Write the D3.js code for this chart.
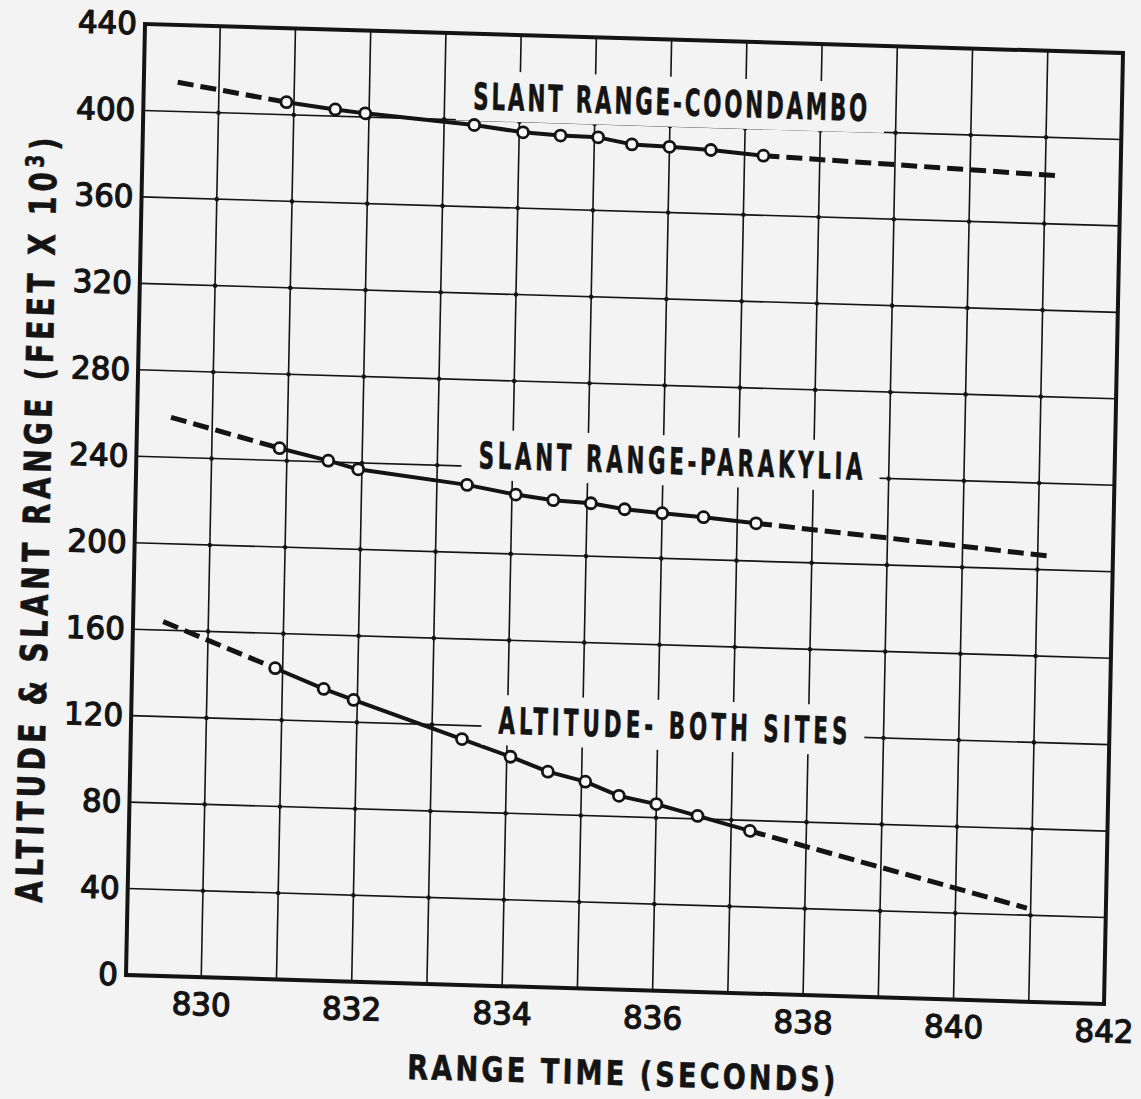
<!DOCTYPE html>
<html>
<head>
<meta charset="utf-8">
<script src="https://cdn.jsdelivr.net/npm/d3@7"></script>
<style>
  html, body { margin: 0; padding: 0; background: #f3f3f3; }
  svg { display: block; }
</style>
</head>
<body>
<svg id="chart" width="1141" height="1099"></svg>
<script>
// ---- data -------------------------------------------------------------
// Range time (seconds) of each tracked sample
const rangeTime = [830.9, 831.55, 831.95, 833.4, 834.05, 834.55, 835.05, 835.5, 836.0, 836.55, 837.25];
// Slant range from Coondambo (feet x 10^3)
const slantCoondambo = [405.8, 403.1, 401.7, 397.8, 395.1, 394.1, 393.8, 391.0, 390.4, 389.5, 387.6];
// Slant range from Parakylia (feet x 10^3)
const slantParakylia = [245.7, 240.6, 237.0, 231.3, 227.5, 225.4, 224.5, 222.2, 220.9, 219.6, 217.5];
// Altitude, both sites (feet x 10^3)
const altitudeBoth = [143.9, 135.0, 130.3, 113.7, 106.2, 99.8, 95.7, 89.6, 86.3, 81.4, 75.2];

// Extrapolated end points [time, value] before the first and after the last sample
const coondamboExtrap = [[829.45, 413.5], [841.2, 382.3]];
const parakyliaExtrap = [[829.45, 258.5], [841.15, 206.4]];
const altitudeExtrap  = [[829.4, 163.9], [840.95, 43.3]];

const seriesNames = ["SLANT RANGE-COONDAMBO", "SLANT RANGE-PARAKYLIA", "ALTITUDE- BOTH SITES"];

const xTickLabels = [830, 832, 834, 836, 838, 840, 842];
const yTickLabels = [0, 40, 80, 120, 160, 200, 240, 280, 320, 360, 400, 440];
const xGrid = [830, 831, 832, 833, 834, 835, 836, 837, 838, 839, 840, 841];
const yGrid = [40, 80, 120, 160, 200, 240, 280, 320, 360, 400];

// ---- layout -----------------------------------------------------------
const W = 978, H = 951;
const ink = "#141414";
const paper = "#f3f3f3";
const letterFont = "'DejaVu Sans', sans-serif";

const svg = d3.select("#chart");
svg.append("rect").attr("width", 1141).attr("height", 1099).attr("fill", paper);

// The sheet sits slightly skewed on the page
const g = svg.append("g")
  .attr("transform", "matrix(1, 0.02965, -0.01998, 1, 145, 24)");

const x = d3.scaleLinear().domain([829, 842]).range([0, W]);
const y = d3.scaleLinear().domain([0, 440]).range([H, 0]);

// grid
g.append("g").selectAll("line").data(xGrid).join("line")
  .attr("x1", d => x(d)).attr("x2", d => x(d))
  .attr("y1", 0).attr("y2", H)
  .attr("stroke", ink).attr("stroke-width", 1.6);
g.append("g").selectAll("line").data(yGrid).join("line")
  .attr("x1", 0).attr("x2", W)
  .attr("y1", d => y(d)).attr("y2", d => y(d))
  .attr("stroke", ink).attr("stroke-width", 1.6);

// dots where the grid lines cross
const crossings = [];
xGrid.forEach(a => yGrid.forEach(b => crossings.push([a, b])));
g.append("g").selectAll("circle").data(crossings).join("circle")
  .attr("cx", d => x(d[0])).attr("cy", d => y(d[1])).attr("r", 2.3)
  .attr("fill", ink);

// frame
g.append("rect").attr("x", 0).attr("y", 0).attr("width", W).attr("height", H)
  .attr("fill", "none").attr("stroke", ink).attr("stroke-width", 4);

// ---- series -----------------------------------------------------------
const series = [
  { name: seriesNames[0], values: slantCoondambo, ext: coondamboExtrap, at: [836.0, 411.3], w: 394 },
  { name: seriesNames[1], values: slantParakylia, ext: parakyliaExtrap, at: [836.1, 245.4], w: 384 },
  { name: seriesNames[2], values: altitudeBoth,   ext: altitudeExtrap,  at: [836.2, 123.0], w: 349 }
];

const line = d3.line().x(d => x(d[0])).y(d => y(d[1]));

series.forEach(s => {
  const pts = rangeTime.map((t, i) => [t, s.values[i]]);
  // dashed extrapolation on both ends
  [[s.ext[0], pts[0]], [pts[pts.length - 1], s.ext[1]]].forEach(seg => {
    g.append("path").attr("d", line(seg))
      .attr("fill", "none").attr("stroke", ink).attr("stroke-width", 5)
      .attr("stroke-dasharray", "16,7");
  });
  // measured track
  g.append("path").attr("d", line(pts))
    .attr("fill", "none").attr("stroke", ink).attr("stroke-width", 4)
    .attr("stroke-linejoin", "round");
  s.pts = pts;
});

// paper-coloured patches behind the series labels
series.forEach(s => {
  const cx = x(s.at[0]), cy = y(s.at[1]);
  g.append("rect")
    .attr("x", cx - s.w / 2 - 17).attr("y", cy - 25)
    .attr("width", s.w + 34).attr("height", 50)
    .attr("fill", paper);
  s.cx = cx; s.cy = cy;
});

// sample markers
series.forEach(s => {
  g.append("g").selectAll("circle").data(s.pts).join("circle")
    .attr("cx", d => x(d[0])).attr("cy", d => y(d[1])).attr("r", 5.5)
    .attr("fill", "#f8f8f8").attr("stroke", ink).attr("stroke-width", 2.8);
});

// Narrow hand-lettered text: glyphs squeezed horizontally, then spaced out
// so the line spans `target` pixels.
function lettering(parent, cx, baseY, target, size, squeeze, rotate, build) {
  const holder = parent.append("g")
    .attr("transform", `translate(${cx},${baseY}) rotate(${rotate}) scale(${squeeze},1)`);
  const t = holder.append("text")
    .attr("text-anchor", "middle")
    .attr("font-family", letterFont).attr("font-weight", "bold")
    .attr("font-size", size).attr("fill", ink)
    .attr("stroke", ink).attr("stroke-width", 0.6);
  build(t);
  const n = t.node().getNumberOfChars();
  const w = t.node().getComputedTextLength();
  const ls = (target / squeeze - w) / Math.max(1, n - 1);
  t.attr("letter-spacing", ls).attr("x", ls / 2);
  return t;
}

series.forEach(s => {
  lettering(g, s.cx, s.cy + 13.5, s.w, 37, 0.58, 0, t => t.text(s.name));
});

// ---- axes ---------------------------------------------------------------
const xAxis = g.append("g").attr("transform", `translate(0,${H})`)
  .call(d3.axisBottom(x).tickValues(xTickLabels).tickSize(0).tickPadding(16));
const yAxis = g.append("g")
  .call(d3.axisLeft(y).tickValues(yTickLabels).tickSize(0).tickPadding(8));
[xAxis, yAxis].forEach(a => {
  a.select(".domain").remove();
  a.selectAll("text")
    .attr("font-family", letterFont).attr("font-size", 31)
    .attr("fill", ink).attr("stroke", ink).attr("stroke-width", 1.3);
});

// axis titles
lettering(g, 497, H + 83 + 12.5, 428, 34, 0.8, 0, t => t.text("RANGE TIME (SECONDS)"));

lettering(g, -99 + 13.5, 499, 765, 37, 0.76, -90, t => {
  t.append("tspan").text("ALTITUDE & SLANT RANGE (FEET X 10");
  t.append("tspan").attr("dy", -13).attr("font-size", 25).text("3");
  t.append("tspan").attr("dy", 13).text(")");
});
</script>
</body>
</html>
